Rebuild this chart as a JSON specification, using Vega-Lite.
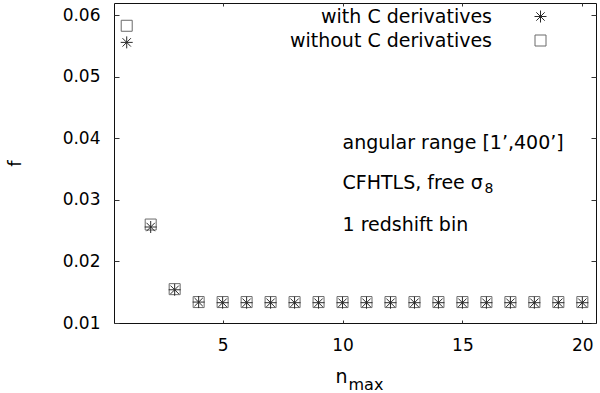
{
  "$schema": "https://vega.github.io/schema/vega-lite/v6.json",
  "autosize": "none",
  "width": 482,
  "height": 320,
  "padding": {"left": 114, "top": 3, "right": 4, "bottom": 70},
  "background": "white",
  "config": {
    "font": "DejaVu Sans",
    "view": {"stroke": "#111", "strokeWidth": 1},
    "axis": {"grid": false, "domain": false, "tickColor": "#333", "labelFontSize": 17, "labelColor": "#000", "titleFontSize": 18, "titleFontWeight": "normal", "titleColor": "#000", "labelFont": "DejaVu Sans", "titleFont": "DejaVu Sans"}
  },
  "data": {
    "values": [
      {"n": 1, "f": 0.0556, "series": "with C derivatives"},
      {"n": 2, "f": 0.0256, "series": "with C derivatives"},
      {"n": 3, "f": 0.0154, "series": "with C derivatives"},
      {"n": 4, "f": 0.0134, "series": "with C derivatives"},
      {"n": 5, "f": 0.0133, "series": "with C derivatives"},
      {"n": 6, "f": 0.0133, "series": "with C derivatives"},
      {"n": 7, "f": 0.0133, "series": "with C derivatives"},
      {"n": 8, "f": 0.0133, "series": "with C derivatives"},
      {"n": 9, "f": 0.0133, "series": "with C derivatives"},
      {"n": 10, "f": 0.0133, "series": "with C derivatives"},
      {"n": 11, "f": 0.0133, "series": "with C derivatives"},
      {"n": 12, "f": 0.0133, "series": "with C derivatives"},
      {"n": 13, "f": 0.0133, "series": "with C derivatives"},
      {"n": 14, "f": 0.0133, "series": "with C derivatives"},
      {"n": 15, "f": 0.0133, "series": "with C derivatives"},
      {"n": 16, "f": 0.0133, "series": "with C derivatives"},
      {"n": 17, "f": 0.0133, "series": "with C derivatives"},
      {"n": 18, "f": 0.0133, "series": "with C derivatives"},
      {"n": 19, "f": 0.0133, "series": "with C derivatives"},
      {"n": 20, "f": 0.0133, "series": "with C derivatives"},
      {"n": 1, "f": 0.0583, "series": "without C derivatives"},
      {"n": 2, "f": 0.0260, "series": "without C derivatives"},
      {"n": 3, "f": 0.0155, "series": "without C derivatives"},
      {"n": 4, "f": 0.0134, "series": "without C derivatives"},
      {"n": 5, "f": 0.0134, "series": "without C derivatives"},
      {"n": 6, "f": 0.0134, "series": "without C derivatives"},
      {"n": 7, "f": 0.0134, "series": "without C derivatives"},
      {"n": 8, "f": 0.0134, "series": "without C derivatives"},
      {"n": 9, "f": 0.0134, "series": "without C derivatives"},
      {"n": 10, "f": 0.0134, "series": "without C derivatives"},
      {"n": 11, "f": 0.0134, "series": "without C derivatives"},
      {"n": 12, "f": 0.0134, "series": "without C derivatives"},
      {"n": 13, "f": 0.0134, "series": "without C derivatives"},
      {"n": 14, "f": 0.0134, "series": "without C derivatives"},
      {"n": 15, "f": 0.0134, "series": "without C derivatives"},
      {"n": 16, "f": 0.0134, "series": "without C derivatives"},
      {"n": 17, "f": 0.0134, "series": "without C derivatives"},
      {"n": 18, "f": 0.0134, "series": "without C derivatives"},
      {"n": 19, "f": 0.0134, "series": "without C derivatives"},
      {"n": 20, "f": 0.0134, "series": "without C derivatives"}
    ]
  },
  "resolve": {"axis": {"x": "independent", "y": "independent"}},
  "layer": [
    {
      "mark": {"type": "point", "filled": false, "strokeWidth": 1, "opacity": 1},
      "encoding": {
        "x": {"field": "n", "type": "quantitative", "scale": {"domain": [0.47, 20.57], "nice": false, "zero": false},
              "axis": {"orient": "bottom", "values": [5, 10, 15, 20], "title": "n", "titleX": 227, "titleY": 59, "titleAlign": "center", "titleBaseline": "alphabetic", "titleFontSize": 19, "ticks": false, "labelPadding": 14, "labelFlush": false}},
        "y": {"field": "f", "type": "quantitative", "scale": {"domain": [0.01, 0.062], "nice": false, "zero": false},
              "axis": {"orient": "left", "values": [0.01, 0.02, 0.03, 0.04, 0.05, 0.06], "format": ".2f", "title": "f", "ticks": false, "labelPadding": 14, "titlePadding": 38}},
        "shape": {"field": "series", "type": "nominal",
                  "scale": {"domain": ["with C derivatives", "without C derivatives"], "range": ["M-1,0L1,0M0,-1L0,1M-0.7,-0.7L0.7,0.7M-0.7,0.7L0.7,-0.7", "square"]},
                  "legend": {"title": null, "orient": "none", "legendX": 417, "legendY": 4, "labelAlign": "right", "labelOffset": -58, "labelFontSize": 19, "labelColor": "#000", "labelFont": "DejaVu Sans", "rowPadding": 4, "symbolStrokeWidth": 1, "labelLimit": 400}},
        "color": {"field": "series", "type": "nominal",
                  "scale": {"domain": ["with C derivatives", "without C derivatives"], "range": ["#2a2a2a", "#6a6a6a"]}},
        "size": {"field": "series", "type": "nominal",
                 "scale": {"domain": ["with C derivatives", "without C derivatives"], "range": [144, 121]}},
        "order": {"field": "series", "type": "nominal", "sort": "descending"}
      }
    },
    {
      "data": {"values": [{}]},
      "mark": {"type": "text", "align": "left", "baseline": "middle", "fontSize": 19, "font": "DejaVu Sans", "color": "#000"},
      "encoding": {
        "x": {"datum": 10, "type": "quantitative", "axis": {"orient": "top", "values": [5, 10, 15, 20], "labels": false, "title": null, "tickSize": 3, "offset": -3}},
        "y": {"datum": 0.0392, "type": "quantitative", "axis": {"orient": "right", "values": [0.01, 0.02, 0.03, 0.04, 0.05, 0.06], "labels": false, "title": null, "tickSize": 5, "offset": -5}},
        "text": {"value": "angular range [1’,400’]"}
      }
    },
    {
      "data": {"values": [{}]},
      "mark": {"type": "text", "align": "left", "baseline": "middle", "fontSize": 19, "font": "DejaVu Sans", "color": "#000"},
      "encoding": {
        "x": {"datum": 10, "type": "quantitative", "axis": {"orient": "bottom", "values": [5, 10, 15, 20], "labels": false, "title": null, "tickSize": 3, "offset": -3}},
        "y": {"datum": 0.0327, "type": "quantitative", "axis": {"orient": "left", "values": [0.01, 0.02, 0.03, 0.04, 0.05, 0.06], "labels": false, "title": null, "tickSize": 5, "offset": -5}},
        "text": {"value": "CFHTLS, free σ"}
      }
    },
    {
      "data": {"values": [{}]},
      "mark": {"type": "text", "align": "left", "baseline": "middle", "fontSize": 14, "font": "DejaVu Sans", "color": "#000"},
      "encoding": {
        "x": {"datum": 15.92, "type": "quantitative", "axis": null},
        "y": {"datum": 0.03175, "type": "quantitative", "axis": null},
        "text": {"value": "8"}
      }
    },
    {
      "data": {"values": [{}]},
      "mark": {"type": "text", "align": "left", "baseline": "middle", "fontSize": 19, "font": "DejaVu Sans", "color": "#000"},
      "encoding": {
        "x": {"datum": 10, "type": "quantitative", "axis": {"orient": "bottom", "values": [], "labels": false, "ticks": false, "title": "max", "titleX": 234, "titleY": 66, "titleAlign": "left", "titleBaseline": "alphabetic", "titleFontSize": 16}},
        "y": {"datum": 0.0259, "type": "quantitative", "axis": null},
        "text": {"value": "1 redshift bin"}
      }
    }
  ]
}
